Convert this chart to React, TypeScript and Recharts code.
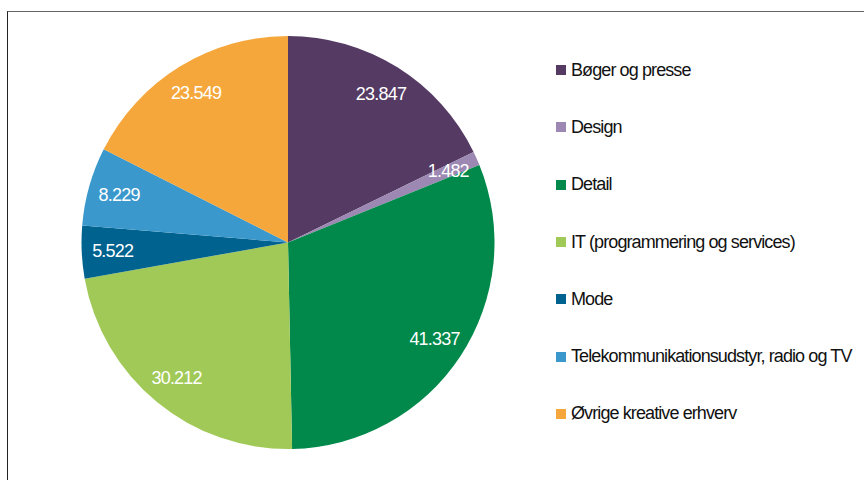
import React from "react";
import { PieChart, Pie, Cell, Legend } from "recharts";

const categories = [
  "Bøger og presse",
  "Design",
  "Detail",
  "IT (programmering og services)",
  "Mode",
  "Telekommunikationsudstyr, radio og TV",
  "Øvrige kreative erhverv",
];
const values = [23847, 1482, 41337, 30212, 5522, 8229, 23549];
const valueLabels = ["23.847", "1.482", "41.337", "30.212", "5.522", "8.229", "23.549"];
const colors = ["#553a63", "#9c88b2", "#00894a", "#a1c957", "#00628f", "#3b98cc", "#f5a73b"];

const data = categories.map((name, i) => ({ name, value: values[i], label: valueLabels[i] }));

const RADIAN = Math.PI / 180;

const renderLabel = (props: any) => {
  const { cx, cy, midAngle, outerRadius, index } = props;
  const r = outerRadius * 0.85;
  const x = cx + r * Math.cos(-midAngle * RADIAN);
  const y = cy + r * Math.sin(-midAngle * RADIAN);
  return (
    <text
      x={x}
      y={y}
      fill="#ffffff"
      textAnchor="middle"
      dominantBaseline="central"
      fontSize={18}
      fontFamily="Liberation Sans, Arial, sans-serif"
      letterSpacing={-0.8}
    >
      {data[index].label}
    </text>
  );
};

const renderLegend = () => (
  <div style={{ fontFamily: "Liberation Sans, Arial, sans-serif" }}>
    {data.map((d, i) => (
      <div
        key={d.name}
        style={{ display: "flex", alignItems: "center", height: 57.3, fontSize: 18, letterSpacing: -0.9, color: "#111" }}
      >
        <span style={{ width: 10, height: 10, background: colors[i], marginRight: 5, display: "inline-block", flexShrink: 0 }} />
        <span style={{ whiteSpace: "nowrap" }}>{d.name}</span>
      </div>
    ))}
  </div>
);

export default function App() {
  return (
    <div style={{ position: "absolute", left: 0, top: 0, width: 864, height: 480, background: "#fff", overflow: "hidden" }}>
      <div
        style={{
          position: "absolute",
          left: 7,
          top: 11,
          width: 870,
          height: 480,
          borderTop: "1px solid #666",
          borderLeft: "1px solid #222",
        }}
      />
      <PieChart width={864} height={480} margin={{ top: 0, right: 0, bottom: 0, left: 0 }}>
        <Pie
          data={data}
          dataKey="value"
          nameKey="name"
          cx={288}
          cy={242.5}
          outerRadius={206.5}
          startAngle={90}
          endAngle={-270}
          stroke="none"
          label={renderLabel}
          labelLine={false}
          isAnimationActive={false}
        >
          {data.map((d, i) => (
            <Cell key={d.name} fill={colors[i]} />
          ))}
        </Pie>
        <Legend
          layout="vertical"
          verticalAlign="top"
          align="right"
          content={renderLegend}
          wrapperStyle={{ left: 556, top: 41.5, width: 308 }}
        />
      </PieChart>
    </div>
  );
}
